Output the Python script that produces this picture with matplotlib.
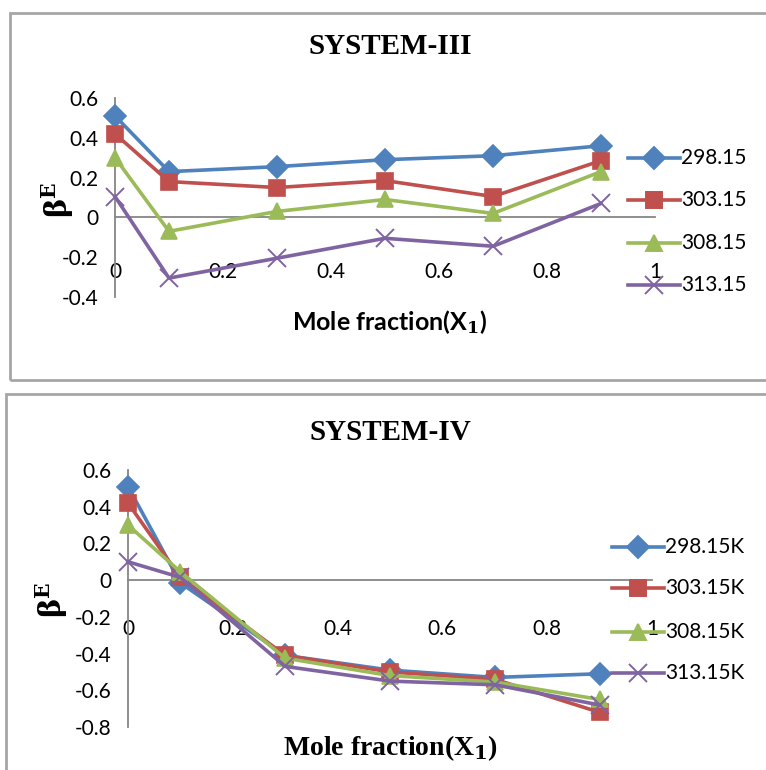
import matplotlib
matplotlib.use("Agg")
import matplotlib.pyplot as plt
from matplotlib.patches import Rectangle
from matplotlib.lines import Line2D

plt.rcParams['mathtext.fontset'] = 'dejavuserif'

x_vals = [0, 0.1, 0.3, 0.5, 0.7, 0.9]

# SYSTEM-III
labels_iii = ["298.15", "303.15", "308.15", "313.15"]
s3_298 = [0.51, 0.23, 0.255, 0.29, 0.31, 0.36]
s3_303 = [0.42, 0.18, 0.15, 0.185, 0.105, 0.285]
s3_308 = [0.30, -0.07, 0.03, 0.09, 0.02, 0.23]
s3_313 = [0.105, -0.305, -0.205, -0.105, -0.145, 0.07]

# SYSTEM-IV
labels_iv = ["298.15K", "303.15K", "308.15K", "313.15K"]
s4_298 = [0.51, -0.015, -0.41, -0.49, -0.53, -0.51]
s4_303 = [0.42, 0.015, -0.41, -0.50, -0.54, -0.72]
s4_308 = [0.30, 0.045, -0.425, -0.52, -0.555, -0.65]
s4_313 = [0.10, 0.015, -0.47, -0.55, -0.57, -0.68]

x_ticks = [0, 0.2, 0.4, 0.6, 0.8, 1]
x_ticklabels = ["0", "0.2", "0.4", "0.6", "0.8", "1"]
y_ticks_iii = [-0.4, -0.2, 0, 0.2, 0.4, 0.6]
y_ticklabels_iii = ["-0.4", "-0.2", "0", "0.2", "0.4", "0.6"]
y_ticks_iv = [-0.8, -0.6, -0.4, -0.2, 0, 0.2, 0.4, 0.6]
y_ticklabels_iv = ["-0.8", "-0.6", "-0.4", "-0.2", "0", "0.2", "0.4", "0.6"]

colors = ["#4F81BD", "#C0504D", "#9BBB59", "#8064A2"]
markers = ["D", "s", "^", "x"]
msizes = [11, 12, 12, 13]

W, H = 766, 770
fig = plt.figure(figsize=(W / 100, H / 100), dpi=100)

def fx(px):
    return px / W

def fy(py):
    return 1 - py / H

# panel borders
for (l, t, b) in [(10, 13, 380), (6, 394, 790)]:
    fig.patches.append(Rectangle((fx(l), fy(b)), fx(W + 20 - l), fy(t) - fy(b),
                                 transform=fig.transFigure, fill=False,
                                 edgecolor="#A6A6A6", linewidth=2))

tick_font = "Lato"
gray = "#868686"

def make_panel(rect, series, labels, yticks, yticklabels, ylim, title, title_y,
               xlabel, xlabel_y, xlabel_font, xlabel_fs, ylabel_x, ylabel_y, tick_pad,
               leg_x, leg_ys, leg_fs):
    ax = fig.add_axes(rect)
    for i, ys in enumerate(series):
        ax.plot(x_vals, ys, color=colors[i], marker=markers[i], markersize=msizes[i],
                linewidth=2.6, markeredgewidth=1.2 if markers[i] != "x" else 1.4,
                clip_on=False, zorder=3)
    ax.set_xlim(0, 1)
    ax.set_ylim(*ylim)
    ax.spines['top'].set_visible(False)
    ax.spines['right'].set_visible(False)
    ax.spines['bottom'].set_position(('data', 0))
    ax.spines['left'].set_color(gray)
    ax.spines['bottom'].set_color(gray)
    ax.spines['left'].set_linewidth(1.3)
    ax.spines['bottom'].set_linewidth(1.3)
    ax.set_xticks(x_ticks)
    ax.set_xticklabels(x_ticklabels, family=tick_font, fontsize=15)
    ax.set_yticks(yticks)
    ax.set_yticklabels(yticklabels, family=tick_font, fontsize=15)
    ax.tick_params(axis='x', length=0, pad=tick_pad)
    ax.tick_params(axis='y', length=0, pad=12)
    ax.patch.set_alpha(0)
    fig.text(0.5093, fy(title_y), title, ha='center', va='center',
             family='Liberation Serif', fontweight='bold', fontsize=21)
    fig.text(0.5093, fy(xlabel_y), xlabel, ha='center', va='center',
             family=xlabel_font, fontweight='bold', fontsize=xlabel_fs)
    fig.text(fx(ylabel_x), fy(ylabel_y), r'$\mathbf{\beta}^{\mathbf{E}}$',
             rotation=90, ha='center', va='center', fontsize=21)
    # legend
    for i, lab in enumerate(labels):
        y = fy(leg_ys[i])
        fig.add_artist(Line2D([fx(leg_x), fx(leg_x + 52)], [y, y],
                              transform=fig.transFigure, color=colors[i], linewidth=2.6))
        fig.add_artist(Line2D([fx(leg_x + 26)], [y], transform=fig.transFigure,
                              color=colors[i], marker=markers[i], markersize=msizes[i],
                              markeredgewidth=1.4, linestyle='none'))
        fig.text(fx(leg_x + 53), y, lab, ha='left', va='center',
                 family=tick_font, fontsize=leg_fs)
    return ax

make_panel([fx(115), fy(297), fx(540), fy(98) - fy(297)],
           [s3_298, s3_303, s3_308, s3_313], labels_iii,
           y_ticks_iii, y_ticklabels_iii, (-0.4, 0.6),
           "SYSTEM-III", 47,
           r"Mole fraction(X$_\mathbf{1}$)", 322, "Lato", 18,
           58, 200, 32,
           628, [158, 200, 243, 285], 15)

make_panel([fx(128), fy(727), fx(524), fy(470) - fy(727)],
           [s4_298, s4_303, s4_308, s4_313], labels_iv,
           y_ticks_iv, y_ticklabels_iv, (-0.8, 0.6),
           "SYSTEM-IV", 432,
           r"Mole fraction(X$_\mathbf{1}$)", 748, "Liberation Serif", 20,
           52, 600, 28,
           612, [547, 588, 632, 673], 15)

fig.savefig("out.png", dpi=100)
